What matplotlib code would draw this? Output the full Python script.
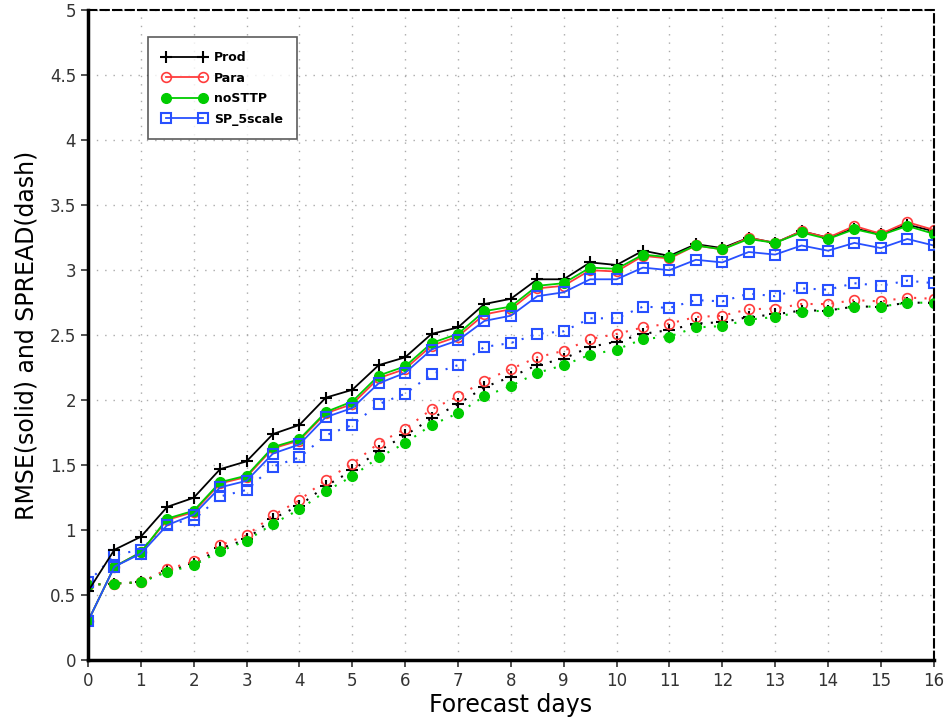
import matplotlib.pyplot as plt

days = [i * 0.5 for i in range(33)]

rmse_prod = [0.53, 0.85, 0.95, 1.18, 1.25, 1.47, 1.53, 1.74, 1.81, 2.02, 2.08, 2.27, 2.33, 2.51, 2.56, 2.74,
             2.78, 2.93, 2.93, 3.06, 3.04, 3.15, 3.11, 3.20, 3.17, 3.25, 3.21, 3.30, 3.25, 3.32, 3.28, 3.35, 3.30]
rmse_para = [0.30, 0.72, 0.83, 1.08, 1.14, 1.36, 1.41, 1.63, 1.69, 1.90, 1.97, 2.17, 2.24, 2.42, 2.49, 2.66,
             2.70, 2.86, 2.88, 3.00, 2.99, 3.11, 3.09, 3.19, 3.16, 3.25, 3.21, 3.30, 3.25, 3.34, 3.28, 3.37, 3.31]
rmse_nostp = [0.30, 0.72, 0.83, 1.09, 1.15, 1.37, 1.42, 1.64, 1.70, 1.91, 1.99, 2.19, 2.26, 2.44, 2.51, 2.685,
              2.72, 2.88, 2.90, 3.02, 3.01, 3.12, 3.10, 3.19, 3.16, 3.24, 3.21, 3.29, 3.24, 3.315, 3.27, 3.34, 3.28]
rmse_sp5 = [0.30, 0.72, 0.82, 1.04, 1.12, 1.33, 1.38, 1.59, 1.66, 1.87, 1.94, 2.13, 2.21, 2.39, 2.46, 2.61,
            2.65, 2.80, 2.83, 2.93, 2.93, 3.02, 3.00, 3.08, 3.06, 3.14, 3.12, 3.19, 3.15, 3.21, 3.17, 3.24, 3.19]

spread_prod = [0.58, 0.59, 0.60, 0.69, 0.74, 0.86, 0.93, 1.09, 1.19, 1.34, 1.46, 1.61, 1.73, 1.86, 1.97, 2.10,
               2.18, 2.27, 2.32, 2.41, 2.45, 2.51, 2.54, 2.59, 2.60, 2.64, 2.66, 2.69, 2.69, 2.72, 2.72, 2.75, 2.75]
spread_para = [0.58, 0.59, 0.60, 0.70, 0.76, 0.885, 0.96, 1.115, 1.23, 1.39, 1.51, 1.67, 1.78, 1.93, 2.03, 2.15,
               2.24, 2.33, 2.38, 2.47, 2.51, 2.56, 2.59, 2.64, 2.65, 2.70, 2.705, 2.74, 2.74, 2.77, 2.76, 2.79, 2.78]
spread_nostp = [0.58, 0.59, 0.60, 0.68, 0.73, 0.84, 0.92, 1.05, 1.16, 1.30, 1.415, 1.56, 1.67, 1.81, 1.90, 2.03,
                2.11, 2.21, 2.27, 2.35, 2.39, 2.47, 2.49, 2.56, 2.57, 2.62, 2.64, 2.68, 2.69, 2.72, 2.72, 2.75, 2.75]
spread_sp5 = [0.60, 0.81, 0.85, 1.05, 1.08, 1.26, 1.31, 1.49, 1.56, 1.73, 1.81, 1.97, 2.05, 2.20, 2.27, 2.41,
              2.44, 2.51, 2.53, 2.63, 2.63, 2.72, 2.71, 2.77, 2.76, 2.82, 2.80, 2.86, 2.85, 2.90, 2.88, 2.92, 2.90]

names = ["Prod", "Para", "noSTTP", "SP_5scale"]
colors = ["black", "#ff3c3c", "#00cc00", "#2850ff"]

fig = plt.figure(figsize=(9.46, 7.24), dpi=100)
ax = fig.add_axes([0.093, 0.088, 0.894, 0.898])

dot = (0, (1, 4))
# solid = rmse, dotted = spread
ax.plot(days, spread_prod, color=colors[0], ls=dot, lw=1.5, marker="+", ms=8, mew=1.5)
ax.plot(days, spread_para, color=colors[1], ls=dot, lw=1.5, marker="o", ms=7, mfc="none", mew=1.2)
ax.plot(days, spread_nostp, color=colors[2], ls=dot, lw=1.5, marker="o", ms=7, mew=1)
ax.plot(days, spread_sp5, color=colors[3], ls=dot, lw=1.5, marker="s", ms=7, mfc="none", mew=1.5)

ax.plot(days, rmse_prod, color=colors[0], lw=1.3, marker="+", ms=8, mew=1.5, label=names[0])
ax.plot(days, rmse_para, color=colors[1], lw=1.3, marker="o", ms=7, mfc="none", mew=1.2, label=names[1])
ax.plot(days, rmse_nostp, color=colors[2], lw=1.3, marker="o", ms=7, mew=1, label=names[2])
ax.plot(days, rmse_sp5, color=colors[3], lw=1.3, marker="s", ms=7, mfc="none", mew=1.5, label=names[3])

ax.set_xlim(0, 16)
ax.set_ylim(0, 5)
ax.set_xticks(range(0, 17))
ax.set_yticks([0, 0.5, 1, 1.5, 2, 2.5, 3, 3.5, 4, 4.5, 5])
ax.set_yticklabels(["0", "0.5", "1", "1.5", "2", "2.5", "3", "3.5", "4", "4.5", "5"])
ax.tick_params(labelsize=12, direction="out", length=5, width=1.2, colors="#333333")
ax.grid(True, ls=(0, (1, 5)), color="#aaaaaa", lw=1)

ax.spines["left"].set_linewidth(2.5)
ax.spines["bottom"].set_linewidth(2.5)
ax.spines["top"].set_linestyle((0, (4, 2)))
ax.spines["right"].set_linestyle((0, (4, 2)))
ax.spines["top"].set_linewidth(1.5)
ax.spines["right"].set_linewidth(1.5)

ax.set_xlabel("Forecast days", fontsize=17, labelpad=2)
ax.set_ylabel("RMSE(solid) and SPREAD(dash)", fontsize=17, labelpad=8)

leg = ax.legend(loc="upper left", bbox_to_anchor=(0.071, 0.958), borderaxespad=0, numpoints=2,
                fancybox=False, edgecolor="#333333", handlelength=3.6, handletextpad=0.6,
                borderpad=1.1, labelspacing=0.6, prop={"weight": "bold", "size": 9})
leg.get_frame().set_linewidth(1.2)

fig.savefig("out.png")
